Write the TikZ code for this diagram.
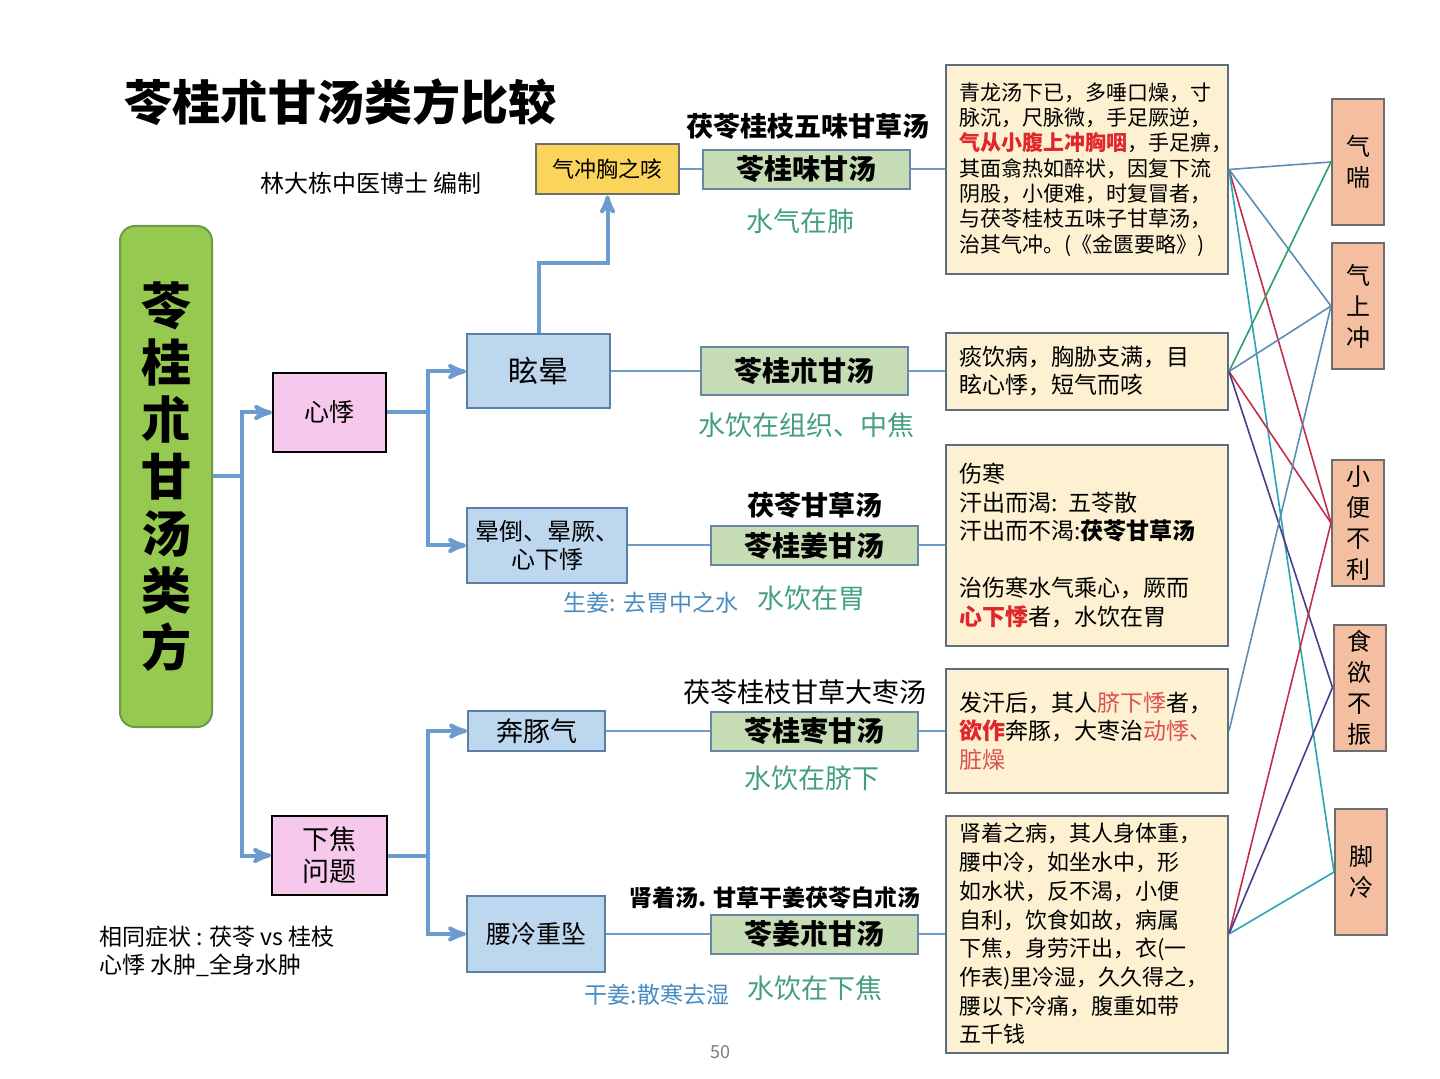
\documentclass[tikz,border=0pt]{standalone}
\usepackage{fontspec}
\setmainfont{Noto Sans CJK SC}
\usetikzlibrary{arrows,positioning}

\definecolor{treeblue}{HTML}{6C9BCF}
\definecolor{linkblue}{HTML}{6E9CC8}
\definecolor{rootfill}{HTML}{96C94F}
\definecolor{rootline}{HTML}{6E9A45}
\definecolor{pinkfill}{HTML}{F6C8EC}
\definecolor{zhengfill}{HTML}{BDD7EE}
\definecolor{zhengline}{HTML}{5A7EA8}
\definecolor{goldfill}{HTML}{FBD55B}
\definecolor{fangfill}{HTML}{C6DCB4}
\definecolor{fangline}{HTML}{6A86A6}
\definecolor{textfill}{HTML}{FDF1D2}
\definecolor{textline}{HTML}{5E6E7E}
\definecolor{peachfill}{HTML}{F3BFA0}
\definecolor{peachline}{HTML}{6E6E6E}
\definecolor{notegreen}{HTML}{43A07F}
\definecolor{noteblue}{HTML}{4A8CC0}
\definecolor{hired}{HTML}{E0262B}
\definecolor{softred}{HTML}{D9534F}
\definecolor{l_gray}{HTML}{5B8DB8}
\definecolor{l_red}{HTML}{C0304A}
\definecolor{l_teal}{HTML}{2AA5B5}
\definecolor{l_green}{HTML}{2E9E6E}
\definecolor{l_purple}{HTML}{4B3C8C}

\begin{document}
\begin{tikzpicture}[x=0.5pt,y=-0.5pt,>=stealth',
	tree/.style={draw=treeblue,line width=2pt},
	link/.style={draw=linkblue,line width=1pt},
	xian/.style={draw=#1,line width=0.8pt},
	zheng/.style={draw=zhengline,fill=zhengfill,line width=1pt,align=center,inner sep=0pt},
	fang/.style={draw=fangline,fill=fangfill,line width=1pt,minimum width=103.5pt,minimum height=19.5pt,inner sep=0pt,font=\fontsize{14pt}{16pt}\selectfont\bfseries},
	yuanwen/.style={draw=textline,fill=textfill,line width=1pt,text width=128pt,inner xsep=6.5pt,align=left},
	zhuang/.style={draw=peachline,fill=peachfill,line width=1pt,minimum width=26pt,minimum height=63pt,inner sep=0pt,align=center,font=\fontsize{12pt}{15.5pt}\selectfont},
	fname/.style={font=\fontsize{13.5pt}{16pt}\selectfont\bfseries},
	gnote/.style={text=notegreen,font=\fontsize{13.5pt}{16pt}\selectfont},
	bnote/.style={text=noteblue,font=\fontsize{11.5pt}{14pt}\selectfont}]
	\useasboundingbox (0,0) rectangle (1440,1079);
	\fill[white] (0,0) rectangle (1440,1079);

	% title
	\node (title) at (340,102) {\fontsize{24pt}{28pt}\selectfont\bfseries 苓桂朮甘汤类方比较};
	\node (author) at (371,183) {\fontsize{12pt}{14pt}\selectfont 林大栋中医博士 编制};

	% left tree
	\node[draw=rootline,fill=rootfill,line width=1pt,rounded corners=7.5pt,minimum width=46pt,minimum height=250.5pt,align=center,inner sep=0pt,font=\fontsize{25pt}{28.5pt}\selectfont\bfseries] (root) at (166,476.5) {苓\\桂\\朮\\甘\\汤\\类\\方};
	\node[draw=black,fill=pinkfill,line width=1pt,minimum width=56.5pt,minimum height=39.5pt,font=\fontsize{12.5pt}{15pt}\selectfont] (xinji) at (329.5,412.5) {心悸};
	\node[draw=black,fill=pinkfill,line width=1pt,minimum width=57.5pt,minimum height=39.5pt,align=center,inner sep=0pt,font=\fontsize{13.5pt}{16pt}\selectfont] (xiajiao) at (329.5,855.5) {下焦\\问题};
	\node[zheng,minimum width=71.5pt,minimum height=37pt,font=\fontsize{15pt}{18pt}\selectfont] (xuanyun) at (538.5,371.5) {眩晕};
	\node[zheng,minimum width=80pt,minimum height=37.5pt,font=\fontsize{12pt}{14pt}\selectfont] (yundao) at (547,545.5) {晕倒、晕厥、\\心下悸};
	\node[zheng,minimum width=68.5pt,minimum height=20pt,font=\fontsize{13.5pt}{16pt}\selectfont] (bentun) at (536.5,731) {奔豚气};
	\node[zheng,minimum width=69pt,minimum height=38pt,font=\fontsize{12.5pt}{15pt}\selectfont] (yaoleng) at (536,934) {腰冷重坠};
	\node[draw=peachline,fill=goldfill,line width=1pt,minimum width=71.5pt,minimum height=25pt,inner sep=0pt,font=\fontsize{11pt}{13pt}\selectfont] (qichong) at (607.5,169.5) {气冲胸之咳};

	\draw[tree,->] (root.east) -- ++(29,0) |- (xinji.west);
	\draw[tree,->] (root.east) -- ++(29,0) |- (xiajiao.west);
	\draw[tree,->] (xinji.east) -- ++(41,0) |- (xuanyun.west);
	\draw[tree,->] (xinji.east) -- ++(41,0) |- (yundao.west);
	\draw[tree,->] (xuanyun.north) -- ++(0,-70) -| (qichong.south);
	\draw[tree,->] (xiajiao.east) -- ++(40,0) |- (bentun.west);
	\draw[tree,->] (xiajiao.east) -- ++(40,0) |- (yaoleng.west);

	% formulas
	\node[fang] (f_1) at (806.5,169.5) {苓桂味甘汤};
	\node[fang,minimum height=24pt] (f_2) at (804.5,371.5) {苓桂朮甘汤};
	\node[fang] (f_3) at (814.5,545.5) {苓桂姜甘汤};
	\node[fang] (f_4) at (814.5,731) {苓桂枣甘汤};
	\node[fang] (f_5) at (814.5,934) {苓姜朮甘汤};

	\node[fname] (n_1) at (808,126) {茯苓桂枝五味甘草汤};
	\node[fname] (n_3) at (815,505) {茯苓甘草汤};
	\node[font=\fontsize{13.5pt}{16pt}\selectfont] (n_4) at (805,692) {茯苓桂枝甘草大枣汤};
	\node[font=\fontsize{11.5pt}{14pt}\selectfont\bfseries] (n_5) at (775,898) {肾着汤. 甘草干姜茯苓白朮汤};

	\node[gnote] (w_1) at (800,221) {水气在肺};
	\node[gnote] (w_2) at (806,425) {水饮在组织、中焦};
	\node[gnote] (w_3) at (811,598) {水饮在胃};
	\node[gnote] (w_4) at (812,778) {水饮在脐下};
	\node[gnote] (w_5) at (815,988) {水饮在下焦};
	\node[bnote] (b_3) at (651,603) {生姜: 去胃中之水};
	\node[bnote] (b_5) at (657,995) {干姜:散寒去湿};

	% original texts
	\node[yuanwen,minimum height=104.5pt,font=\fontsize{10.5pt}{12.65pt}\selectfont] (t_1) at (1087,169.5) {青龙汤下已，多唾口燥，寸\\脉沉，尺脉微，手足厥逆，\\{\color{hired}\bfseries 气从小腹上冲胸咽}，手足痹，\\其面翕热如醉状，因复下流\\阴股，小便难，时复冒者，\\与茯苓桂枝五味子甘草汤，\\治其气冲。(《金匮要略》)};
	\node[yuanwen,minimum height=38.5pt,font=\fontsize{11.5pt}{14pt}\selectfont] (t_2) at (1087,371.5) {痰饮病，胸胁支满，目\\眩心悸，短气而咳};
	\node[yuanwen,minimum height=100pt,font=\fontsize{11.5pt}{14.25pt}\selectfont] (t_3) at (1087,545.5) {伤寒\\汗出而渴: 五苓散\\汗出而不渴:{\bfseries 茯苓甘草汤}\\[14.25pt]治伤寒水气乘心，厥而\\{\color{hired}\bfseries 心下悸}者，水饮在胃};
	\node[yuanwen,minimum height=62pt,font=\fontsize{11.5pt}{14.25pt}\selectfont] (t_4) at (1087,731) {发汗后，其人{\color{softred}脐下悸}者，\\{\color{hired}\bfseries 欲作}奔豚，大枣治{\color{softred}动悸、}\\{\color{softred}脏燥}};
	\node[yuanwen,minimum height=118.5pt,font=\fontsize{11pt}{14.35pt}\selectfont] (t_5) at (1087,934) {肾着之病，其人身体重，\\腰中冷，如坐水中，形\\如水状，反不渴，小便\\自利，饮食如故，病属\\下焦，身劳汗出，衣(一\\作表)里冷湿，久久得之，\\腰以下冷痛，腹重如带\\五千钱};

	\path[link]
		(qichong) edge (f_1)
		(f_1) edge (t_1)
		(xuanyun) edge (f_2)
		(f_2) edge (t_2)
		(yundao) edge (f_3)
		(f_3) edge (t_3)
		(bentun) edge (f_4)
		(f_4) edge (t_4)
		(yaoleng) edge (f_5)
		(f_5) edge (t_5);

	% symptoms
	\node[zhuang] (s_1) at (1358,162) {气\\喘};
	\node[zhuang] (s_2) at (1358,306) {气\\上\\冲};
	\node[zhuang] (s_3) at (1358,523) {小\\便\\不\\利};
	\node[zhuang] (s_4) at (1359.5,687.5) {食\\欲\\不\\振};
	\node[zhuang] (s_5) at (1361,872) {脚\\冷};

	\draw[xian=l_gray] (t_1.east) -- (s_1.west);
	\draw[xian=l_gray] (t_1.east) -- (s_2.west);
	\draw[xian=l_red] (t_1.east) -- (s_3.west);
	\draw[xian=l_teal] (t_1.east) -- (s_5.west);
	\draw[xian=l_green] (t_2.east) -- (s_1.west);
	\draw[xian=l_gray] (t_2.east) -- (s_2.west);
	\draw[xian=l_red] (t_2.east) -- (s_3.west);
	\draw[xian=l_purple] (t_2.east) -- (s_4.west);
	\draw[xian=l_gray] (t_4.east) -- (s_2.west);
	\draw[xian=l_red] (t_5.east) -- (s_3.west);
	\draw[xian=l_purple] (t_5.east) -- (s_4.west);
	\draw[xian=l_teal] (t_5.east) -- (s_5.west);

	% notes
	\node[anchor=west,align=left,font=\fontsize{11.5pt}{14pt}\selectfont] (same) at (92,951) {相同症状 : 茯苓 vs 桂枝\\心悸 水肿\_全身水肿};
	\node[text=gray,font=\fontsize{9pt}{11pt}\selectfont] (page) at (720,1052) {50};
\end{tikzpicture}
\end{document}
